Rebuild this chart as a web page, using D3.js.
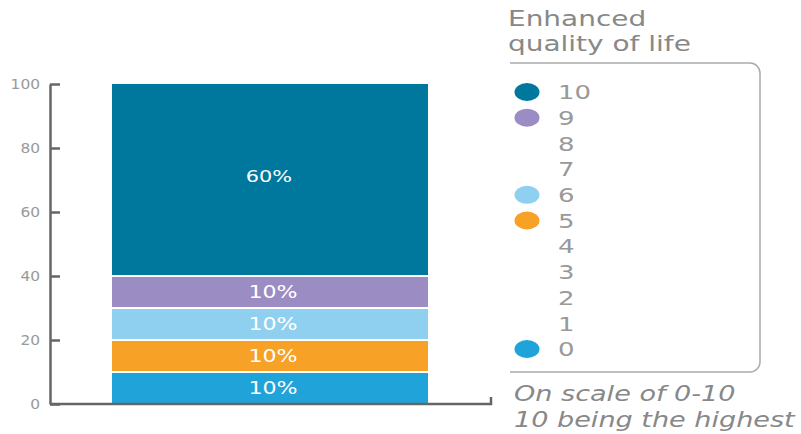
<!DOCTYPE html>
<html>
<head>
<meta charset="utf-8">
<script src="https://cdn.jsdelivr.net/npm/d3@7"></script>
<style>
  html, body { margin: 0; padding: 0; background: #fff; }
  svg { display: block; font-family: "Century Gothic", "DejaVu Sans", sans-serif; }
</style>
</head>
<body>
<svg id="chart" width="801" height="434"></svg>
<script>
// Ratings on the 0-10 scale, share of respondents (%)
const ratings = ["0", "1", "2", "3", "4", "5", "6", "7", "8", "9", "10"];
const shares  = [10, 0, 0, 0, 0, 10, 10, 0, 0, 10, 60];
const colors  = ["#1fa3d9", "#cccccc", "#cccccc", "#cccccc", "#cccccc",
                 "#f7a126", "#8fd0f0", "#cccccc", "#cccccc", "#9b8cc4", "#00789e"];
const yTicks  = [0, 20, 40, 60, 80, 100];
const barName = ["Enhanced quality of life"];
const legendTitle = ["Enhanced", "quality of life"];
const footnote = ["On scale of 0-10", "10 being the highest"];

const FONT = "\"Century Gothic\", \"DejaVu Sans\", sans-serif";
const svg = d3.select("#chart");

// Widen a text run by a factor (geometric faces run wide)
function widen(sel, k) {
  sel.each(function () {
    const w = this.getComputedTextLength();
    d3.select(this).attr("textLength", w * k).attr("lengthAdjust", "spacingAndGlyphs");
  });
}

const y = d3.scaleLinear().domain([0, 100]).range([404, 84]);
const x = d3.scaleBand().domain(barName).range([112, 428]);

// Stack the ratings bottom-up
const rows = [Object.fromEntries(ratings.map((r, i) => [r, shares[i]]))];
const series = d3.stack().keys(ratings)(rows);
const colorOf = d3.scaleOrdinal().domain(ratings).range(colors);

const segs = series.filter(s => s[0][1] - s[0][0] > 0);

svg.append("g").selectAll("rect")
  .data(segs)
  .join("rect")
  .attr("x", x(barName[0]))
  .attr("width", x.bandwidth())
  .attr("y", d => y(d[0][1]) + (d[0][1] < 100 ? 1 : 0))
  .attr("height", d => y(d[0][0]) - y(d[0][1]) - (d[0][1] < 100 ? 1 : 0) - (d[0][0] > 0 ? 1 : 0))
  .attr("fill", d => colorOf(d.key));

const pct = svg.append("g").selectAll("text")
  .data(segs)
  .join("text")
  .attr("x", d => x(barName[0]) + x.bandwidth() / 2 + (d[0][1] - d[0][0] > 20 ? -1 : 3))
  .attr("y", d => (y(d[0][0]) + y(d[0][1])) / 2 - (d[0][1] - d[0][0] > 20 ? 4 : 0))
  .attr("dy", "0.35em")
  .attr("text-anchor", "middle")
  .attr("fill", "#fff")
  .attr("font-size", d => d[0][1] - d[0][0] > 20 ? 16 : 17)
  .text(d => (d[0][1] - d[0][0]) + "%");
widen(pct, 1.3);

// Y axis with inward ticks
const yAxis = svg.append("g")
  .attr("transform", "translate(50,0)")
  .call(d3.axisLeft(y).tickValues(yTicks).tickSize(-10).tickSizeOuter(0).tickPadding(10));
yAxis.select(".domain").attr("stroke", "#666").attr("stroke-width", 2.5);
yAxis.selectAll(".tick line").attr("stroke", "#666").attr("stroke-width", 2.5);
const tickText = yAxis.selectAll(".tick text")
  .attr("fill", "#999").attr("font-size", 14)
  .attr("font-family", FONT);
widen(tickText, 1.1);

// Baseline with small end tick
svg.append("path")
  .attr("d", `M50,${y(0)}H491V${y(0) - 7}`)
  .attr("fill", "none").attr("stroke", "#666").attr("stroke-width", 2.5);

// Legend title
const title = svg.append("g").selectAll("text")
  .data(legendTitle)
  .join("text")
  .attr("x", 508)
  .attr("y", (d, i) => 26 + i * 25)
  .attr("fill", "#888")
  .attr("font-size", 22)
  .text(d => d);
widen(title, 1.27);

// Legend frame: open on the left, rounded on the right
const r = 10;
svg.append("path")
  .attr("d", `M510,63H${760 - r}A${r},${r} 0 0 1 760,${63 + r}V${372 - r}A${r},${r} 0 0 1 ${760 - r},372H510`)
  .attr("fill", "none").attr("stroke", "#aaa").attr("stroke-width", 1.5);

// Legend items, highest rating first
const legendOrder = ratings.slice().reverse();
const ly = d3.scalePoint().domain(legendOrder).range([92, 349]);
const items = svg.append("g").selectAll("g")
  .data(legendOrder)
  .join("g")
  .attr("transform", d => `translate(0,${ly(d)})`);
items.filter(d => shares[ratings.indexOf(d)] > 0)
  .append("ellipse")
  .attr("cx", 527).attr("cy", 0).attr("rx", 12.5).attr("ry", 9)
  .attr("fill", d => colorOf(d));
const itemText = items.append("text")
  .attr("x", 558).attr("dy", "0.36em")
  .attr("fill", "#999").attr("font-size", 20)
  .text(d => d);
widen(itemText, 1.3);

// Scale note
const note = svg.append("g").selectAll("text")
  .data(footnote)
  .join("text")
  .attr("x", 514)
  .attr("y", (d, i) => 401 + i * 26)
  .attr("fill", "#888")
  .attr("font-size", 22)
  .attr("font-style", "italic")
  .text(d => d);
widen(note, 1.23);
</script>
</body>
</html>
